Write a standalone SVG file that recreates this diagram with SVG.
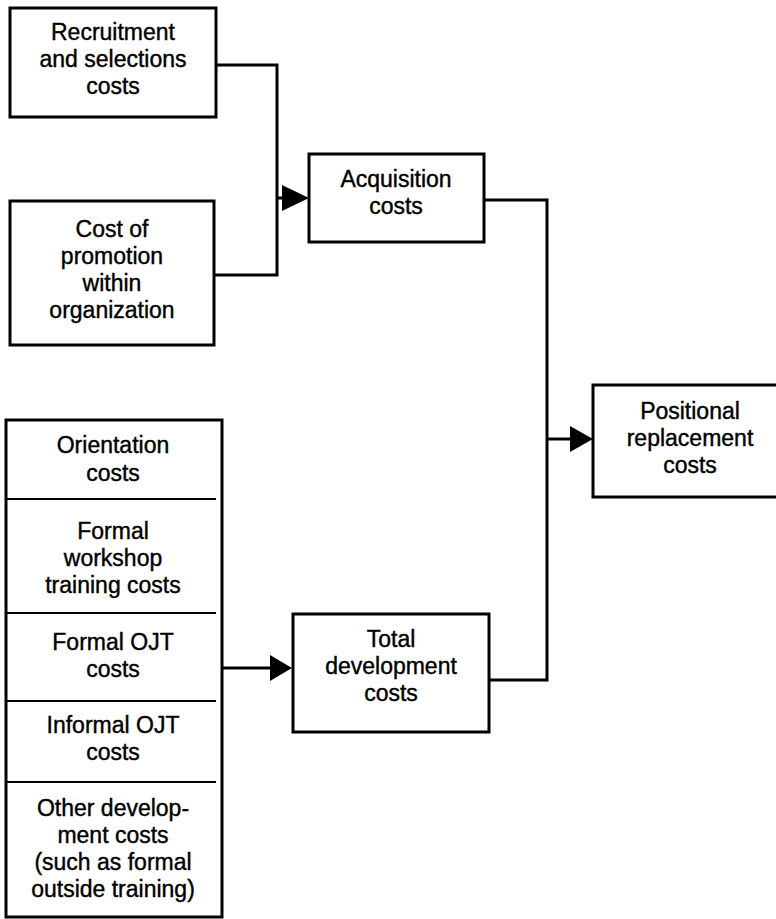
<svg xmlns="http://www.w3.org/2000/svg" width="776" height="919" viewBox="0 0 776 919">
<style>
.box{fill:#fff;stroke:#000;stroke-width:3}
.div{stroke:#000;stroke-width:2}
.t{font-family:"Liberation Sans",Arial,sans-serif;font-size:23px;fill:#000;stroke:#000;stroke-width:0.4;text-anchor:middle}
.c{fill:none;stroke:#000;stroke-width:3}
</style>
<rect width="776" height="919" fill="#fff"/>
<g id="connectors">
<path class="c" d="M216,65 H277 V275 H214"/>
<path class="c" d="M277,198 H284"/>
<polygon points="282,185 309,198 282,211" fill="#000"/>
<path class="c" d="M484,200 H547 V680 H489"/>
<path class="c" d="M547,439 H572"/>
<polygon points="570,426 593,439 570,452" fill="#000"/>
<path class="c" d="M222,668 H272"/>
<polygon points="270,655 292,668 270,681" fill="#000"/>
</g>
<g id="recruitment">
<rect class="box" x="10" y="8" width="206" height="109"/>
<text class="t" x="113" y="40">Recruitment</text>
<text class="t" x="113" y="67">and selections</text>
<text class="t" x="113" y="94">costs</text>
</g>
<g id="promotion">
<rect class="box" x="10" y="201" width="204" height="144"/>
<text class="t" x="112" y="237">Cost of</text>
<text class="t" x="112" y="264">promotion</text>
<text class="t" x="112" y="291">within</text>
<text class="t" x="112" y="318">organization</text>
</g>
<g id="acquisition">
<rect class="box" x="309" y="154" width="175" height="88"/>
<text class="t" x="396" y="187">Acquisition</text>
<text class="t" x="396" y="214">costs</text>
</g>
<g id="positional">
<rect class="box" x="593" y="385" width="190" height="112"/>
<text class="t" x="690" y="419">Positional</text>
<text class="t" x="690" y="446">replacement</text>
<text class="t" x="690" y="473">costs</text>
</g>
<g id="development-items">
<rect class="box" x="6" y="420" width="216" height="497"/>
<line class="div" x1="6" y1="499" x2="216" y2="499"/>
<line class="div" x1="6" y1="613" x2="216" y2="613"/>
<line class="div" x1="6" y1="701" x2="216" y2="701"/>
<line class="div" x1="6" y1="782" x2="216" y2="782"/>
<text class="t" x="113" y="453">Orientation</text>
<text class="t" x="113" y="481">costs</text>
<text class="t" x="113" y="539">Formal</text>
<text class="t" x="113" y="566">workshop</text>
<text class="t" x="113" y="593">training costs</text>
<text class="t" x="113" y="650">Formal OJT</text>
<text class="t" x="113" y="677">costs</text>
<text class="t" x="113" y="733">Informal OJT</text>
<text class="t" x="113" y="760">costs</text>
<text class="t" x="113" y="816">Other develop-</text>
<text class="t" x="113" y="843">ment costs</text>
<text class="t" x="113" y="870">(such as formal</text>
<text class="t" x="113" y="897">outside training)</text>
</g>
<g id="total-development">
<rect class="box" x="293" y="614" width="196" height="118"/>
<text class="t" x="391" y="647">Total</text>
<text class="t" x="391" y="674">development</text>
<text class="t" x="391" y="701">costs</text>
</g>
</svg>
